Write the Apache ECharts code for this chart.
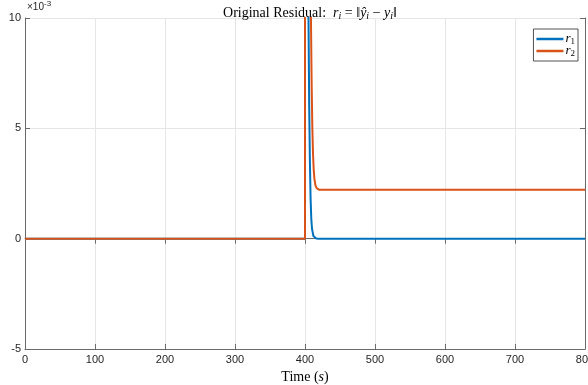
<!DOCTYPE html>
<html>
<head>
<meta charset="utf-8">
<script src="https://cdn.jsdelivr.net/npm/echarts@6/dist/echarts.min.js"></script>
<style>
  html, body { margin: 0; padding: 0; background: #ffffff; }
  #chart { width: 588px; height: 385px; }
</style>
</head>
<body>
<div id="chart"></div>
<script>
// time axis (s) and residuals (units of 1e-3)
var timeR1 = [0, 400, 400.01, 402, 404, 405, 406, 407, 408, 409, 410, 412, 414, 416, 420, 800];
var valR1  = [0, 0,   60,     30,  15,  10,  6,   3.5, 1.8, 0.9, 0.45, 0.12, 0.03, 0.01, 0, 0];

var timeR2 = [0, 400, 400.01, 404, 407, 408.5, 409.5, 410.5, 411.5, 412.5, 413.5, 415, 417, 420, 800];
var valR2  = [0, 0,   60,     25,  14,  10,    7,     5,     3.8,   3.1,   2.7,   2.4, 2.28, 2.22, 2.22];

var xTicks = [0, 100, 200, 300, 400, 500, 600, 700, 800];
var yTicks = [-5, 0, 5, 10];

var blue = '#0072BD';
var orange = '#D95319';
var axisCol = '#6a6a6a';
var txtCol = '#262626';
var serif = '"Liberation Serif", "DejaVu Serif", serif';
var sans = '"Liberation Sans", Arial, sans-serif';

function pairs(xs, ys) {
  return xs.map(function (x, i) { return [x, ys[i]]; });
}

var chart = echarts.init(document.getElementById('chart'));

var subRich = {
  n: { fontFamily: serif, fontSize: 14, fontWeight: 'normal', color: '#000' },
  it: { fontFamily: serif, fontSize: 14, fontWeight: 'normal', fontStyle: 'italic', color: '#000' },
  sub: { fontFamily: serif, fontSize: 10, fontWeight: 'normal', fontStyle: 'italic', color: '#000', padding: [6, 0, 0, 0] }
};

chart.setOption({
  animation: false,
  backgroundColor: '#ffffff',
  title: {
    text: '{n|Original Residual:  }{it|r}{sub|i}{n| = ‖}{it|ŷ}{sub|i}{n| − }{it|y}{sub|i}{n|‖}',
    left: 305,
    textAlign: 'center',
    top: 0,
    textStyle: { fontWeight: 'normal', rich: subRich }
  },
  grid: { left: 25, right: 3, top: 18, bottom: 36, containLabel: false, outerBoundsMode: 'none' },
  legend: {
    orient: 'vertical',
    right: 10,
    top: 29,
    padding: [3, 3, 3, 3],
    itemGap: -2,
    itemWidth: 27,
    itemHeight: 2.5,
    icon: 'rect',
    borderColor: '#262626',
    borderWidth: 0.8,
    backgroundColor: '#fff',
    data: ['r1', 'r2'],
    formatter: function (name) {
      return '{it|r}{sub|' + name.slice(1) + '}';
    },
    textStyle: {
      padding: [0, 0, 0, -3],
      rich: {
        it: { fontFamily: serif, fontSize: 13, fontStyle: 'italic', color: '#000', lineHeight: 11 },
        sub: { fontFamily: serif, fontSize: 9, color: '#000', padding: [5, 0, 0, 0], lineHeight: 11 }
      }
    }
  },
  xAxis: [{
    type: 'value',
    min: 0, max: 800, interval: 100,
    name: '{n|Time (}{it|s}{n|)}',
    nameLocation: 'middle',
    nameGap: 17,
    nameTextStyle: { rich: subRich },
    axisLine: { show: true, onZero: false, lineStyle: { color: axisCol, width: 1 } },
    axisTick: { show: true, inside: true, length: 5, lineStyle: { color: axisCol } },
    axisLabel: { color: txtCol, fontFamily: sans, fontSize: 11, margin: 5,
      formatter: function (v) { return xTicks.indexOf(v) >= 0 ? String(v) : ''; } },
    splitLine: { show: true, lineStyle: { color: '#e6e6e6', width: 1 } }
  }, {
    type: 'value', position: 'top',
    min: 0, max: 800, interval: 100,
    axisLine: { show: true, lineStyle: { color: axisCol, width: 1 } },
    axisTick: { show: true, inside: true, length: 5, lineStyle: { color: axisCol } },
    axisLabel: { show: false },
    splitLine: { show: false }
  }],
  yAxis: [{
    type: 'value',
    position: 'left',
    min: -5, max: 10, interval: 5,
    name: '{x|×10}{s|-3}',
    nameLocation: 'end',
    nameGap: 4,
    nameTextStyle: {
      align: 'left',
      padding: [0, 0, 0, 2],
      rich: {
        x: { fontFamily: sans, fontSize: 10, color: txtCol },
        s: { fontFamily: sans, fontSize: 8, color: txtCol, padding: [0, 0, 6, 0] }
      }
    },
    axisLine: { show: true, onZero: false, lineStyle: { color: axisCol, width: 1 } },
    axisTick: { show: true, inside: true, length: 5, lineStyle: { color: axisCol } },
    axisLabel: { color: txtCol, fontFamily: sans, fontSize: 11, margin: 4,
      formatter: function (v) { return yTicks.indexOf(v) >= 0 ? String(v) : ''; } },
    splitLine: { show: true, lineStyle: { color: '#e6e6e6', width: 1 } }
  }, {
    type: 'value', position: 'right',
    min: -5, max: 10, interval: 5,
    axisLine: { show: true, onZero: false, lineStyle: { color: axisCol, width: 1 } },
    axisTick: { show: true, inside: true, length: 5, lineStyle: { color: axisCol } },
    axisLabel: { show: false },
    splitLine: { show: false }
  }],
  series: [{
    name: 'r1',
    type: 'line',
    xAxisIndex: 0, yAxisIndex: 0,
    data: pairs(timeR1, valR1),
    showSymbol: false,
    clip: true,
    color: blue,
    lineStyle: { color: blue, width: 2 }
  }, {
    name: 'r2',
    type: 'line',
    xAxisIndex: 0, yAxisIndex: 0,
    data: pairs(timeR2, valR2),
    showSymbol: false,
    clip: true,
    color: orange,
    lineStyle: { color: orange, width: 2 }
  }]
});
</script>
</body>
</html>
